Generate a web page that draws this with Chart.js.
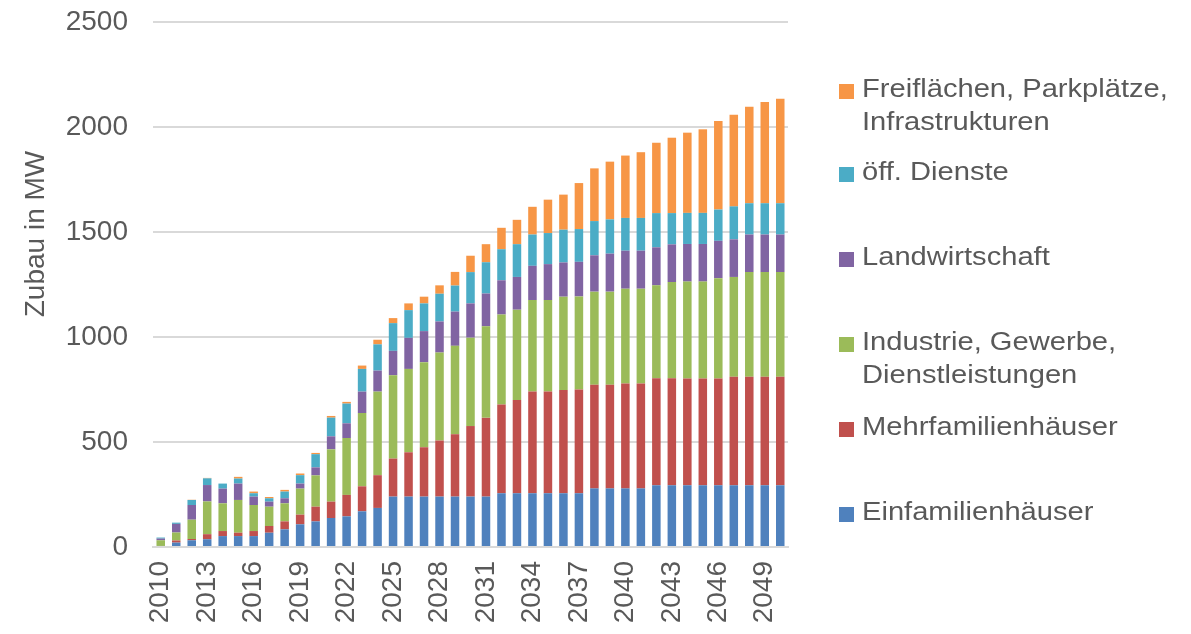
<!DOCTYPE html>
<html>
<head>
<meta charset="utf-8">
<script src="https://cdn.jsdelivr.net/npm/chart.js@4.4.0/dist/chart.umd.min.js"></script>
<style>
  html, body { margin: 0; padding: 0; background: #fff; }
  #wrap { width: 1191px; height: 634px; position: relative; }
</style>
</head>
<body>
<div id="wrap"><canvas id="chart"></canvas></div>
<script>
// years 2010..2050
const years = [];
for (let y = 2010; y <= 2050; y++) years.push(String(y));

// Zubau in MW per sector
const einfamilien = [5, 21, 32, 37, 52, 52, 52, 68, 84, 108, 122, 138, 146, 170, 186, 240, 240, 240, 240, 240,
  240, 240, 256, 256, 256, 256, 256, 256, 279, 279, 279, 279, 294, 294, 294, 294, 294, 294, 294, 294, 294];
const mehrfamilien = [0, 10, 6, 24, 24, 16, 24, 32, 38, 46, 70, 78, 102, 119, 156, 181, 211, 235, 267, 297,
  336, 375, 422, 444, 484, 484, 492, 494, 494, 494, 500, 500, 509, 509, 508, 508, 508, 517, 517, 517, 517];
const industrie = [27, 38, 92, 156, 132, 156, 124, 92, 86, 124, 149, 249, 271, 349, 398, 397, 397, 405, 419, 421,
  421, 436, 429, 430, 436, 436, 444, 443, 443, 443, 451, 451, 443, 459, 462, 462, 478, 475, 498, 498, 498];
const landwirtschaft = [8, 41, 70, 78, 70, 78, 40, 24, 24, 24, 38, 62, 70, 102, 100, 116, 148, 148, 148, 163,
  163, 156, 163, 156, 163, 171, 163, 165, 173, 181, 181, 181, 181, 179, 179, 179, 178, 179, 179, 179, 179];
const dienste = [5, 6, 24, 32, 24, 24, 16, 16, 32, 40, 63, 89, 94, 108, 125, 132, 132, 132, 132, 124,
  149, 149, 148, 156, 149, 148, 156, 156, 163, 163, 156, 156, 163, 149, 148, 148, 149, 157, 149, 149, 149];
const freiflaechen = [0, 0, 1, 2, 0, 8, 8, 6, 8, 8, 6, 8, 8, 16, 22, 24, 32, 32, 40, 65,
  78, 86, 102, 116, 132, 159, 167, 219, 251, 275, 297, 313, 335, 359, 382, 398, 422, 436, 460, 482, 498];

const seriesLabels = ['Einfamilienhäuser', 'Mehrfamilienhäuser', 'Industrie, Gewerbe, Dienstleistungen',
  'Landwirtschaft', 'öff. Dienste', 'Freiflächen, Parkplätze, Infrastrukturen'];
const legendLines = [['Einfamilienhäuser'], ['Mehrfamilienhäuser'], ['Industrie, Gewerbe,', 'Dienstleistungen'],
  ['Landwirtschaft'], ['öff. Dienste'], ['Freiflächen, Parkplätze,', 'Infrastrukturen']];
const colors = ['#4f81bd', '#c0504d', '#9bbb59', '#8064a2', '#4bacc6', '#f79646'];
const seriesData = [einfamilien, mehrfamilien, industrie, landwirtschaft, dienste, freiflaechen];

const textColor = '#595959';
const fontFamily = '"Liberation Sans", Arial, sans-serif';

// custom legend on the right + rotated axis title
const sideDecor = {
  id: 'sideDecor',
  afterDraw(chart) {
    const ctx = chart.ctx;
    ctx.save();
    ctx.fillStyle = textColor;
    ctx.font = '28px ' + fontFamily;
    ctx.textAlign = 'center';
    ctx.textBaseline = 'middle';
    ctx.translate(36, 234);
    ctx.rotate(-Math.PI / 2);
    ctx.fillText('Zubau in MW', 0, 0);
    ctx.restore();

    // legend, top item is the last dataset
    const itemY = [513, 428, 343, 258, 173, 90];
    chart.data.datasets.forEach((ds, i) => {
      const y = itemY[i];
      ctx.save();
      ctx.fillStyle = ds.backgroundColor;
      ctx.fillRect(839, y - 6, 15, 15);
      ctx.fillStyle = textColor;
      ctx.font = '26px ' + fontFamily;
      ctx.textAlign = 'left';
      ctx.textBaseline = 'middle';
      legendLines[i].forEach((line, k) => {
        ctx.save();
        ctx.translate(862, y + k * 33);
        ctx.scale(1.12, 1);
        ctx.fillText(line, 0, 0);
        ctx.restore();
      });
      ctx.restore();
    });
  }
};

new Chart(document.getElementById('chart'), {
  type: 'bar',
  data: {
    labels: years,
    datasets: seriesData.map((d, i) => ({
      label: seriesLabels[i],
      data: d,
      backgroundColor: colors[i],
      barPercentage: 0.55,
      categoryPercentage: 1.0,
    })),
  },
  options: {
    responsive: true,
    maintainAspectRatio: false,
    animation: false,
    layout: { padding: { left: 0, right: 403, top: 22, bottom: 0 } },
    plugins: {
      legend: { display: false },
      tooltip: { enabled: false },
    },
    scales: {
      x: {
        stacked: true,
        grid: { display: false },
        border: { display: true, color: '#d9d9d9', width: 2 },
        ticks: {
          autoSkip: false,
          minRotation: 90,
          maxRotation: 90,
          padding: 6,
          color: textColor,
          font: { family: fontFamily, size: 28 },
          callback: function (val, idx) {
            return idx % 3 === 0 ? this.getLabelForValue(val) : '';
          },
        },
        afterFit: (scale) => { scale.height = 87; },
      },
      y: {
        stacked: true,
        min: 0,
        max: 2500,
        ticks: {
          stepSize: 500,
          padding: 25,
          color: textColor,
          font: { family: fontFamily, size: 28 },
          callback: (v) => String(v),
        },
        grid: { color: '#d9d9d9', lineWidth: 2, drawTicks: false },
        border: { display: false },
        afterFit: (scale) => {
          scale.width = 153;
          scale.paddingTop = 0;
          scale.paddingBottom = 0;
        },
      },
    },
  },
  plugins: [sideDecor],
});
</script>
</body>
</html>
